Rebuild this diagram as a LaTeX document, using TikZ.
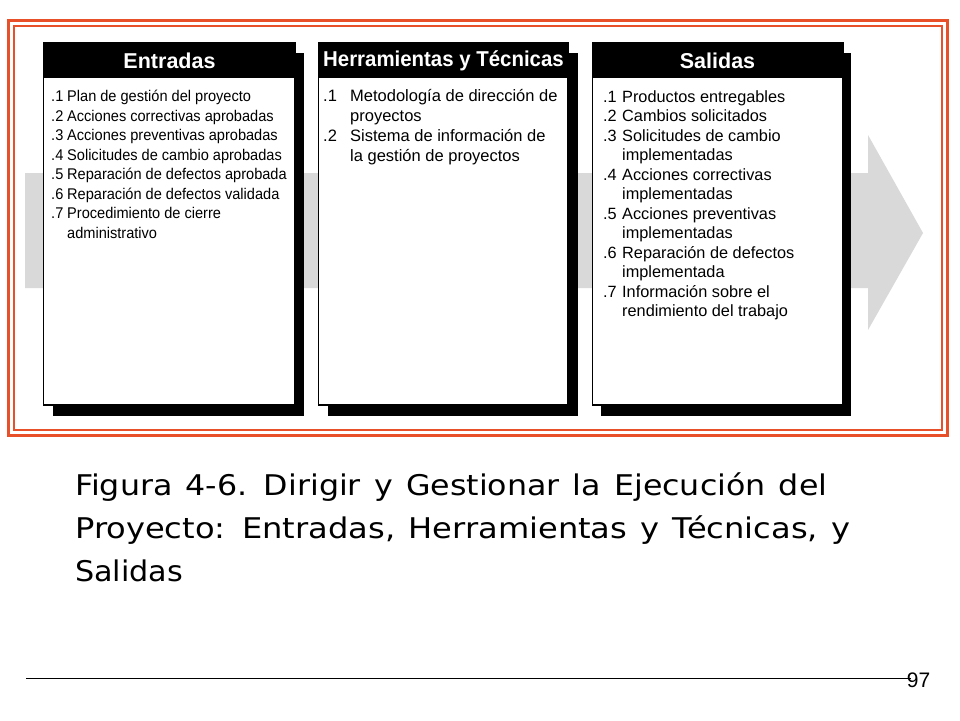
\documentclass[tikz,border=0pt]{standalone}
\usepackage{fontspec}
\setmainfont{Liberation Sans}
\newfontfamily\bodyA[FakeStretch=0.94]{Liberation Sans}
\newfontfamily\headfont{Liberation Sans}
\newfontfamily\capfont[WordSpace=1.3]{DejaVu Sans}
\definecolor{frameorange}{HTML}{E8502A}
\definecolor{bandgray}{HTML}{D9D9D9}
\tikzset{
  shadowbox/.style={fill=black},
  mainbox/.style={draw=black, line width=1.4pt, fill=white},
  headband/.style={fill=black},
  headtext/.style={text=white, font=\headfont\bfseries\fontsize{21.5}{24}\selectfont, inner sep=0pt},
  bodytext/.style={anchor=north west, inner sep=0pt, align=left},
}
\newcommand{\itm}[2]{\makebox[#1][l]{#2}}
\begin{document}
\begin{tikzpicture}[x=1pt,y=-1pt]
\useasboundingbox (0,0) rectangle (960,720);
\fill[white] (0,0) rectangle (960,720);
% frame
\draw[frameorange, line width=3pt] (8.5,20.5) rectangle (947.5,435.5);
\draw[frameorange, line width=2pt] (14,26) rectangle (942,430);
% gray arrow
\fill[bandgray] (25,173) -- (868,173) -- (868,135) -- (923,233) -- (868,330) -- (868,288) -- (25,288) -- cycle;
% box 1
\fill[shadowbox] (53,53) rectangle (304,416);
\draw[mainbox] (43.7,42.7) rectangle (295,405);
\fill[headband] (43,42) rectangle (295.7,78);
\node[headtext] (h1) at (169.5,61) {Entradas};
% box 2
\fill[shadowbox] (328,53) rectangle (578,416);
\draw[mainbox] (318.7,42.7) rectangle (568,405);
\fill[headband] (318,42) rectangle (568.7,78);
\node[headtext] (h2) at (443.5,61) {\scalebox{0.95}[1]{Herramientas y Técnicas}};
% box 3
\fill[shadowbox] (601,53) rectangle (851,416);
\draw[mainbox] (592.7,42.7) rectangle (843,405);
\fill[headband] (592,42) rectangle (843.7,78);
\node[headtext] (h3) at (717.5,61) {Salidas};
% body texts
\node[bodytext, font=\bodyA\fontsize{15.5}{19.5}\selectfont] (b1) at (51,90) {%
\itm{16pt}{.1}Plan de gestión del proyecto\\
\itm{16pt}{.2}Acciones correctivas aprobadas\\
\itm{16pt}{.3}Acciones preventivas aprobadas\\
\itm{16pt}{.4}Solicitudes de cambio aprobadas\\
\itm{16pt}{.5}Reparación de defectos aprobada\\
\itm{16pt}{.6}Reparación de defectos validada\\
\itm{16pt}{.7}Procedimiento de cierre\\
\itm{16pt}{}administrativo};
\node[bodytext, font=\fontsize{16.5}{20}\selectfont] (b2) at (323,89) {%
\itm{27pt}{.1}Metodología de dirección de\\
\itm{27pt}{}proyectos\\
\itm{27pt}{.2}Sistema de información de\\
\itm{27pt}{}la gestión de proyectos};
\node[bodytext, font=\fontsize{16.3}{19.5}\selectfont] (b3) at (603,90) {%
\itm{19pt}{.1}Productos entregables\\
\itm{19pt}{.2}Cambios solicitados\\
\itm{19pt}{.3}Solicitudes de cambio\\
\itm{19pt}{}implementadas\\
\itm{19pt}{.4}Acciones correctivas\\
\itm{19pt}{}implementadas\\
\itm{19pt}{.5}Acciones preventivas\\
\itm{19pt}{}implementadas\\
\itm{19pt}{.6}Reparación de defectos\\
\itm{19pt}{}implementada\\
\itm{19pt}{.7}Información sobre el\\
\itm{19pt}{}rendimiento del trabajo};
% caption
\node[anchor=north west, inner sep=0pt, align=left, font=\capfont\fontsize{28.5}{43}\selectfont] (cap) at (75,472) {%
\resizebox{752pt}{\height}{Figura 4-6. Dirigir y Gestionar la Ejecución del}\\
\resizebox{775pt}{\height}{Proyecto: Entradas, Herramientas y Técnicas, y}\\
\scalebox{1.06}[1]{Salidas}};
% footer
\node[anchor=base, inner sep=0pt, font=\fontsize{21}{24}\selectfont] (pg) at (918.5,687) {97};
\coordinate (lstart) at (26,678);
\draw[black, line width=1pt] (lstart) -- (pg.west |- lstart) -- ++(4,0);
\end{tikzpicture}
\end{document}
